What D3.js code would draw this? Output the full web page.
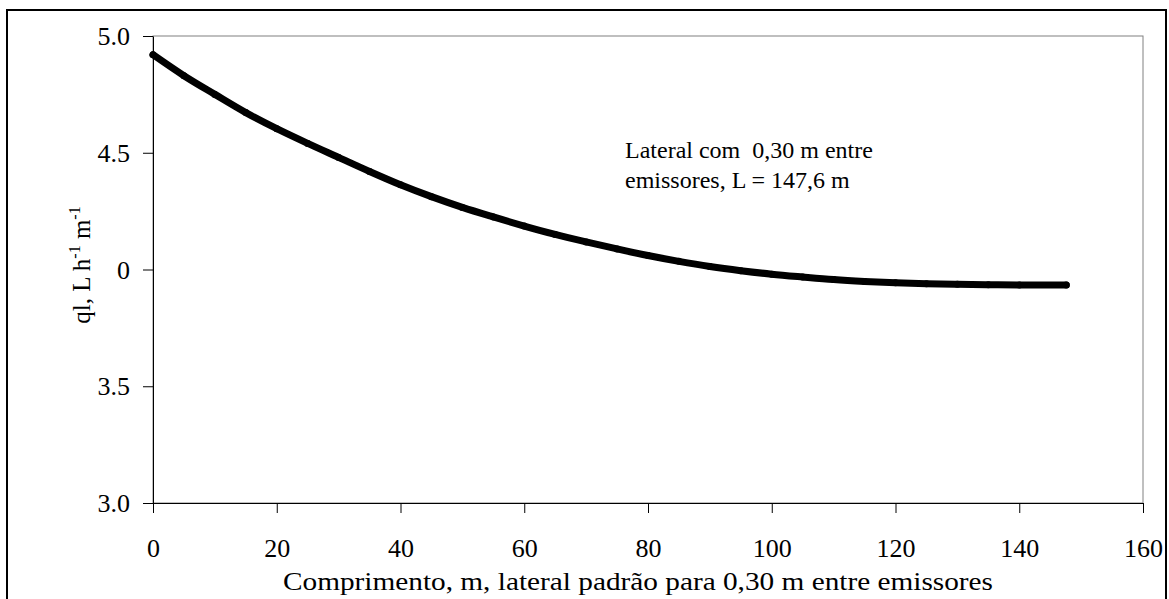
<!DOCTYPE html>
<html>
<head>
<meta charset="utf-8">
<script src="https://cdn.jsdelivr.net/npm/d3@7"></script>
<style>
  html, body { margin: 0; padding: 0; background: #fff; }
  svg { display: block; }
  svg text { font-family: 'Liberation Serif', 'Times New Roman', serif !important; }
</style>
</head>
<body>
<svg id="chart" width="1169" height="599"></svg>
<script>
// ---- data ----
const distance = [0, 5, 10, 15, 20, 25, 30, 35, 40, 45, 50, 55, 60, 65, 70, 75, 80, 85, 90, 95,
                  100, 105, 110, 115, 120, 125, 130, 135, 140, 147.6];
const flow = [4.92, 4.83, 4.75, 4.672, 4.603, 4.54, 4.48, 4.42, 4.363, 4.312, 4.266, 4.225, 4.186, 4.15,
              4.118, 4.088, 4.06, 4.035, 4.013, 3.995, 3.98, 3.968, 3.957, 3.949, 3.943, 3.939,
              3.937, 3.935, 3.934, 3.934];
const xTicks = [0, 20, 40, 60, 80, 100, 120, 140, 160];
const yTicks = [3.0, 3.5, 4.0, 4.5, 5.0];
const yTickLabels = ["3.0", "3.5", "0", "4.5", "5.0"];
const xTitle = "Comprimento, m, lateral padrão para 0,30 m entre emissores";
const noteLines = ["Lateral com\u00A0 0,30 m entre", "emissores, L = 147,6 m"];

(function () {
// ---- layout ----
const svg = d3.select("#chart");
const pLeft = 153, pRight = 1143, pTop = 36, pBottom = 503;

const x = d3.scaleLinear().domain([0, 160]).range([pLeft, pRight]);
const y = d3.scaleLinear().domain([3.0, 5.0]).range([pBottom, pTop]);

// outer frame
svg.append("rect")
  .attr("x", 7).attr("y", 10).attr("width", 1159).attr("height", 620)
  .attr("fill", "none").attr("stroke", "#000").attr("stroke-width", 2);

// plot area frame (grey)
svg.append("rect")
  .attr("x", pLeft).attr("y", pTop).attr("width", pRight - pLeft).attr("height", pBottom - pTop)
  .attr("fill", "none").attr("stroke", "#808080").attr("stroke-width", 1);

// x axis
const xAxis = d3.axisBottom(x).tickValues(xTicks).tickSize(10).tickSizeOuter(0)
  .tickFormat(d3.format("d"));
const gx = svg.append("g").attr("transform", `translate(0,${pBottom})`).call(xAxis);
gx.select(".domain").attr("stroke", "#000");
gx.selectAll(".tick line").attr("stroke", "#000");
gx.selectAll(".tick text")
  .attr("font-size", 26).attr("fill", "#000").attr("dy", 0).attr("y", 54);

// y axis
const yAxis = d3.axisLeft(y).tickValues(yTicks).tickSize(10).tickSizeOuter(0)
  .tickFormat((d, i) => yTickLabels[i]);
const gy = svg.append("g").attr("transform", `translate(${pLeft},0)`).call(yAxis);
gy.select(".domain").attr("stroke", "#000");
gy.selectAll(".tick line").attr("stroke", "#000");
gy.selectAll(".tick text")
  .attr("font-size", 26).attr("fill", "#000").attr("x", -23).attr("dy", "0.33em");

// series: thick marker line
const pts = distance.map((d, i) => [d, flow[i]]);
svg.append("path")
  .datum(pts)
  .attr("fill", "none").attr("stroke", "#000").attr("stroke-width", 7)
  .attr("stroke-linecap", "round").attr("stroke-linejoin", "round")
  .attr("d", d3.line().x(d => x(d[0])).y(d => y(d[1])).curve(d3.curveMonotoneX));
svg.append("g").selectAll("circle").data(pts).join("circle")
  .attr("cx", d => x(d[0])).attr("cy", d => y(d[1])).attr("r", 3.5).attr("fill", "#000");

// annotation
const note = svg.append("text")
  .attr("font-size", 24).attr("fill", "#000");
noteLines.forEach((t, i) => {
  note.append("tspan").attr("x", 625).attr("y", 158 + i * 30).text(t);
});

// x title
svg.append("text")
  .attr("x", 638).attr("y", 590).attr("text-anchor", "middle")
  .attr("font-size", 26).attr("fill", "#000")
  .attr("textLength", 710).attr("lengthAdjust", "spacingAndGlyphs")
  .text(xTitle);

// y title (rotated, with superscripts)
const yt = svg.append("text")
  .attr("transform", "translate(90,265) rotate(-90)")
  .attr("text-anchor", "middle").attr("font-size", 25).attr("fill", "#000");
yt.append("tspan").text("ql, L h");
yt.append("tspan").attr("font-size", 16).attr("dy", -10).text("-1");
yt.append("tspan").attr("dy", 10).text(" m");
yt.append("tspan").attr("font-size", 16).attr("dy", -10).text("-1");
})();
</script>
</body>
</html>
